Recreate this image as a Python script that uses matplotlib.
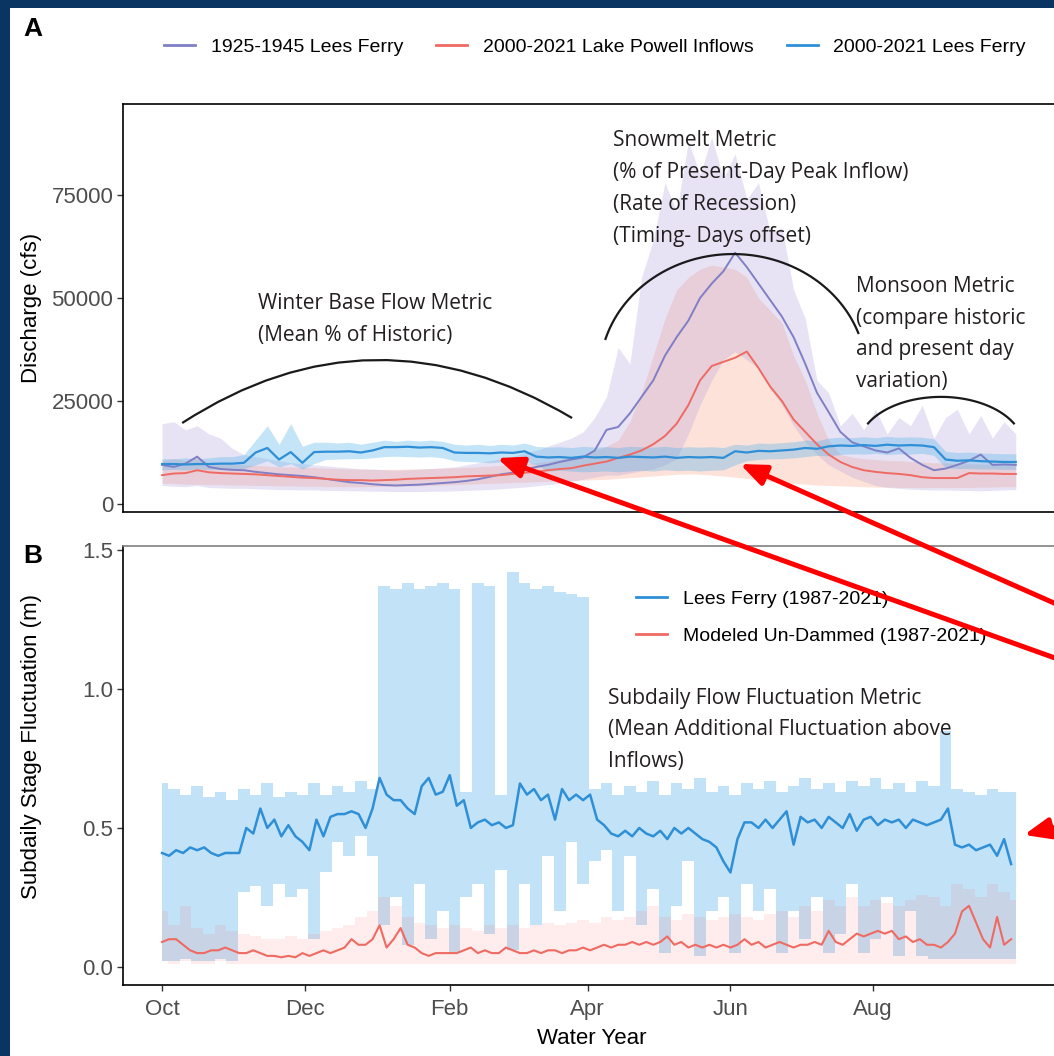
# LIBRARIES IMPORT

import numpy as np
import matplotlib.pyplot as plt
from matplotlib.lines import Line2D
from matplotlib.patches import ConnectionPatch, Rectangle, PathPatch
from matplotlib.path import Path

# DATA

# panel A: day of water year (1 Oct = 0), 5-day samples, discharge in cfs
day_a = np.arange(0, 366, 5)

lees_hist = [9500, 9000, 9800, 11500, 9000, 8500, 8300, 8200, 7800, 7500,
             7200, 7000, 6800, 6500, 6100, 5700, 5300, 5100, 4800, 4600,
             4500, 4600, 4700, 4900, 5100, 5300, 5600, 6000, 6600, 7200,
             7600, 8300, 9000, 9500, 10200, 10800, 11300, 13000, 18000, 18700,
             22000, 26000, 30000, 36000, 40500, 44500, 50000, 53500, 56500, 61000,
             57500, 53500, 49500, 45500, 40500, 34000, 27000, 22300, 17500, 15000,
             14000, 13000, 12500, 13500, 11200, 9500, 8200, 8600, 9500, 10500,
             12000, 9500, 9600, 9500]
lees_hist_lo = [4500, 4300, 4200, 4500, 4000, 3900, 3800, 3800, 3700, 3600,
                3500, 3500, 3400, 3400, 3300, 3300, 3200, 3200, 3100, 3100,
                3000, 3000, 3000, 3100, 3100, 3200, 3300, 3400, 3500, 3700,
                3900, 4100, 4400, 4700, 5000, 5500, 6000, 6500, 7000, 7000,
                7500, 8000, 8500, 9500, 11000, 17000, 24000, 30000, 35000, 37000,
                35000, 33000, 28000, 24000, 19000, 15000, 12000, 9500, 8000, 6500,
                5500, 4500, 4000, 3800, 3600, 3500, 3400, 3400, 3300, 3300,
                3200, 3300, 3400, 3500]
lees_hist_hi = [19500, 20000, 18000, 19000, 17000, 16000, 13500, 12000, 11500, 11000,
                10500, 10000, 9800, 9500, 9300, 9000, 8800, 8500, 8500, 8300,
                8200, 8300, 8500, 8600, 8800, 9000, 9500, 10000, 10500, 11000,
                11500, 12500, 13000, 14000, 15000, 16000, 17500, 21000, 26000, 38000,
                34000, 55000, 64000, 78000, 71000, 88000, 80000, 89000, 79000, 85000,
                74000, 78000, 66000, 67000, 52000, 45000, 30000, 27000, 19000, 22000,
                18000, 23000, 17000, 21000, 19000, 24000, 16000, 21000, 23000, 17000,
                21500, 16000, 20000, 17000]

inflow = [7000, 7400, 7500, 8200, 7700, 7500, 7400, 7300, 7200, 7000,
          6800, 6600, 6400, 6300, 6100, 5900, 5800, 5800, 5700, 5800,
          5900, 6100, 6200, 6300, 6400, 6500, 6700, 6800, 6900, 7000,
          7300, 7600, 7800, 8200, 8500, 8700, 9300, 9800, 10300, 11200,
          12000, 13000, 14500, 16500, 19500, 24000, 30000, 33500, 34500, 35500,
          37000, 33000, 28500, 25000, 20500, 17500, 14500, 12000, 10200, 9000,
          8200, 7800, 7500, 7300, 7000, 6500, 6300, 6300, 6300, 7500,
          7400, 7400, 7300, 7300]
inflow_lo = [5000, 5000, 4800, 4800, 4700, 4700, 4600, 4600, 4500, 4500,
             4400, 4400, 4300, 4300, 4200, 4200, 4200, 4200, 4200, 4300,
             4300, 4400, 4400, 4500, 4600, 4700, 4800, 4900, 5000, 5100,
             5200, 5300, 5400, 5500, 5600, 5700, 5800, 5900, 6000, 6200,
             6400, 6600, 6800, 7000, 7200, 7300, 7200, 7000, 6800, 6500,
             6200, 5800, 5500, 5200, 5000, 4800, 4600, 4500, 4400, 4300,
             4200, 4100, 4100, 4000, 4000, 4000, 4000, 4000, 4000, 4000,
             4100, 4100, 4200, 4200]
inflow_hi = [10500, 11000, 10500, 11500, 10000, 9800, 9600, 9500, 9400, 9200,
             9000, 9000, 8900, 8800, 8700, 8600, 8500, 8500, 8400, 8400,
             8400, 8500, 8500, 8600, 8700, 8800, 8900, 9000, 9200, 9400,
             9600, 9800, 10000, 10400, 10800, 11400, 12000, 13000, 14000, 15500,
             20000, 27000, 36000, 45000, 52000, 55000, 57000, 58000, 57500, 57000,
             55000, 50000, 47000, 44000, 36000, 30000, 22000, 15500, 12000, 11400,
             11000, 10800, 10600, 10500, 10300, 10200, 10000, 10000, 9800, 9800,
             9700, 9700, 9600, 9600]

lees_now = [9700, 9700, 9600, 9700, 9700, 9800, 9800, 10000, 12500, 13600,
            10800, 12600, 10000, 12600, 12700, 12700, 12800, 12500, 13000, 13800,
            13800, 13900, 13700, 13800, 13600, 12500, 12400, 12400, 12300, 12500,
            12400, 12800, 11500, 11300, 11400, 11200, 11500, 11300, 11400, 11200,
            11500, 11400, 11300, 11500, 11200, 11400, 11300, 11400, 11200, 12800,
            12500, 12900, 12800, 13000, 13200, 13600, 13400, 14000, 14200, 14100,
            14300, 14100, 14400, 14200, 14300, 14200, 13800, 10800, 10500, 10600,
            10400, 10300, 10200, 10200]
lees_now_lo = [8300, 8400, 8300, 8500, 8400, 8500, 8600, 8600, 9500, 10500,
               9000, 9800, 8500, 9800, 10800, 10900, 11000, 11000, 11200, 11500,
               11600, 11500, 11400, 11500, 11200, 10500, 10300, 10200, 10000, 10200,
               10100, 10300, 9500, 8000, 8200, 8000, 7800, 7900, 8000, 7800,
               8000, 8200, 8000, 8300, 8100, 8200, 8000, 8200, 8300, 9500,
               10500, 10800, 11000, 11000, 11200, 11500, 11800, 11700, 12000, 12200,
               12100, 12300, 12000, 12200, 12100, 12300, 11800, 8800, 8600, 8600,
               8500, 8500, 8400, 8400]
lees_now_hi = [11000, 11000, 11200, 11000, 11200, 11500, 11500, 12000, 15500, 19000,
               14500, 19500, 14000, 15000, 15000, 14800, 15000, 14500, 15000, 15500,
               15200, 15500, 15300, 15500, 15200, 14500, 14300, 14500, 14200, 14500,
               14300, 14800, 14000, 13800, 13900, 13700, 14000, 13800, 13900, 13700,
               14000, 13900, 13800, 14000, 13700, 13900, 13800, 13900, 13700, 14500,
               14300, 14800, 14700, 14900, 15100, 15500, 15300, 16000, 16200, 16100,
               16300, 16100, 16400, 16200, 16300, 16200, 15800, 12800, 12500, 12600,
               12400, 12300, 12200, 12200]

# panel B: subdaily stage fluctuation (m); lines at 3-day samples, ribbons at 5-day samples
fluct_lees = [0.41, 0.40, 0.42, 0.41, 0.43, 0.42, 0.43, 0.41, 0.40, 0.41,
              0.41, 0.41, 0.50, 0.48, 0.57, 0.50, 0.53, 0.47, 0.51, 0.47,
              0.45, 0.42, 0.53, 0.47, 0.54, 0.55, 0.55, 0.56, 0.55, 0.50,
              0.57, 0.68, 0.62, 0.60, 0.60, 0.57, 0.55, 0.65, 0.68, 0.62,
              0.63, 0.69, 0.58, 0.60, 0.50, 0.52, 0.53, 0.51, 0.52, 0.50,
              0.51, 0.66, 0.62, 0.64, 0.60, 0.62, 0.53, 0.64, 0.60, 0.62,
              0.60, 0.62, 0.53, 0.51, 0.48, 0.47, 0.49, 0.47, 0.50, 0.48,
              0.47, 0.49, 0.46, 0.50, 0.48, 0.50, 0.48, 0.46, 0.45, 0.43,
              0.38, 0.34, 0.46, 0.52, 0.52, 0.50, 0.53, 0.50, 0.53, 0.56,
              0.44, 0.54, 0.52, 0.53, 0.50, 0.54, 0.52, 0.50, 0.55, 0.49,
              0.53, 0.54, 0.51, 0.53, 0.52, 0.53, 0.50, 0.53, 0.52, 0.51,
              0.52, 0.53, 0.57, 0.44, 0.43, 0.44, 0.42, 0.43, 0.44, 0.40,
              0.46, 0.37]
fluct_model = [0.09, 0.10, 0.10, 0.08, 0.06, 0.05, 0.05, 0.06, 0.06, 0.07,
               0.06, 0.05, 0.05, 0.06, 0.05, 0.04, 0.04, 0.035, 0.04, 0.035,
               0.05, 0.04, 0.05, 0.06, 0.05, 0.06, 0.07, 0.10, 0.08, 0.08,
               0.10, 0.15, 0.07, 0.10, 0.14, 0.08, 0.07, 0.05, 0.04, 0.05,
               0.05, 0.05, 0.05, 0.06, 0.07, 0.05, 0.06, 0.05, 0.05, 0.07,
               0.06, 0.05, 0.05, 0.06, 0.05, 0.06, 0.06, 0.05, 0.06, 0.06,
               0.07, 0.06, 0.07, 0.08, 0.07, 0.08, 0.08, 0.09, 0.08, 0.09,
               0.08, 0.09, 0.11, 0.08, 0.09, 0.07, 0.08, 0.07, 0.08, 0.07,
               0.08, 0.07, 0.08, 0.10, 0.08, 0.09, 0.07, 0.08, 0.09, 0.08,
               0.07, 0.08, 0.08, 0.09, 0.08, 0.13, 0.09, 0.08, 0.10, 0.12,
               0.11, 0.12, 0.13, 0.12, 0.13, 0.10, 0.11, 0.09, 0.10, 0.08,
               0.08, 0.07, 0.09, 0.12, 0.20, 0.22, 0.16, 0.10, 0.07, 0.18,
               0.08, 0.10]
day_b_line = np.arange(0, 3 * len(fluct_lees), 3)
day_b = np.arange(0, 366, 5)

fluct_lees_hi = [0.66, 0.64, 0.62, 0.65, 0.61, 0.63, 0.60, 0.64, 0.62, 0.66,
                 0.61, 0.63, 0.62, 0.66, 0.62, 0.65, 0.63, 0.67, 0.64, 1.37,
                 1.36, 1.38, 1.36, 1.37, 1.38, 1.36, 0.63, 1.38, 1.37, 0.62,
                 1.42, 1.38, 1.36, 1.37, 1.35, 1.34, 1.33, 0.64, 0.66, 0.62,
                 0.65, 0.63, 0.67, 0.62, 0.66, 0.64, 0.68, 0.63, 0.65, 0.62,
                 0.66, 0.64, 0.67, 0.63, 0.65, 0.68, 0.64, 0.66, 0.63, 0.67,
                 0.65, 0.68, 0.64, 0.66, 0.63, 0.67, 0.65, 0.85, 0.64, 0.63,
                 0.62, 0.64, 0.63, 0.63]
fluct_lees_lo = [0.02, 0.02, 0.03, 0.02, 0.02, 0.03, 0.02, 0.27, 0.29, 0.22,
                 0.30, 0.25, 0.28, 0.10, 0.34, 0.45, 0.40, 0.47, 0.40, 0.15,
                 0.25, 0.08, 0.30, 0.10, 0.20, 0.05, 0.25, 0.30, 0.12, 0.35,
                 0.06, 0.30, 0.15, 0.40, 0.20, 0.45, 0.30, 0.38, 0.42, 0.20,
                 0.40, 0.15, 0.28, 0.05, 0.22, 0.38, 0.04, 0.20, 0.25, 0.05,
                 0.30, 0.20, 0.28, 0.05, 0.20, 0.10, 0.25, 0.05, 0.12, 0.30,
                 0.05, 0.10, 0.25, 0.04, 0.20, 0.04, 0.03, 0.03, 0.03, 0.03,
                 0.03, 0.03, 0.03, 0.03]
fluct_model_hi = [0.20, 0.15, 0.22, 0.14, 0.12, 0.15, 0.13, 0.12, 0.11, 0.10,
                  0.10, 0.11, 0.10, 0.12, 0.13, 0.14, 0.15, 0.18, 0.20, 0.25,
                  0.22, 0.18, 0.16, 0.15, 0.14, 0.15, 0.14, 0.13, 0.15, 0.14,
                  0.15, 0.14, 0.15, 0.16, 0.15, 0.16, 0.17, 0.16, 0.18, 0.17,
                  0.18, 0.20, 0.22, 0.18, 0.17, 0.19, 0.18, 0.17, 0.18, 0.19,
                  0.18, 0.17, 0.19, 0.20, 0.18, 0.22, 0.20, 0.24, 0.22, 0.25,
                  0.22, 0.24, 0.23, 0.22, 0.24, 0.26, 0.25, 0.22, 0.30, 0.28,
                  0.25, 0.30, 0.27, 0.24]
fluct_model_lo = [0.02, 0.01, 0.02, 0.01, 0.01, 0.02, 0.01, 0.01, 0.01, 0.01,
                  0.01, 0.01, 0.01, 0.01, 0.01, 0.01, 0.01, 0.01, 0.01, 0.01,
                  0.01, 0.01, 0.01, 0.01, 0.01, 0.01, 0.01, 0.01, 0.01, 0.01,
                  0.01, 0.01, 0.01, 0.01, 0.01, 0.01, 0.01, 0.01, 0.01, 0.01,
                  0.01, 0.01, 0.01, 0.01, 0.01, 0.01, 0.01, 0.01, 0.01, 0.01,
                  0.01, 0.01, 0.01, 0.01, 0.01, 0.01, 0.01, 0.01, 0.01, 0.01,
                  0.01, 0.01, 0.01, 0.01, 0.01, 0.01, 0.01, 0.01, 0.01, 0.01,
                  0.01, 0.01, 0.01, 0.01]

month_ticks = [0, 61, 123, 182, 243, 304]
month_labels = ['Oct', 'Dec', 'Feb', 'Apr', 'Jun', 'Aug']

legend_a = ['1925-1945 Lees Ferry', '2000-2021 Lake Powell Inflows', '2000-2021 Lees Ferry']
legend_b = ['Lees Ferry (1987-2021)', 'Modeled Un-Dammed (1987-2021)']

# STYLE

W, H = 1054, 1056
NAVY = '#0a3461'
PURPLE = '#7f7fc6'
RED = '#ef6a62'
BLUE = '#2f8fd6'
SANS = ['Liberation Sans', 'DejaVu Sans']
NOTE = ['Open Sans', 'DejaVu Sans']


def box(left, top, right, bottom):
    # pixel box -> figure fraction [l, b, w, h]
    return [left / W, 1 - bottom / H, (right - left) / W, (bottom - top) / H]


def style_axis(ax):
    ax.tick_params(direction='out', length=4, width=1, color='#333333',
                   labelsize=16, labelcolor='#4d4d4d', pad=3)
    ax.tick_params(axis='x', pad=6)
    for t in ax.get_xticklabels() + ax.get_yticklabels():
        t.set_family(SANS)
    for s in ax.spines.values():
        s.set_linewidth(1.2)
        s.set_color('black')


fig = plt.figure(figsize=(W / 100, H / 100), dpi=100, facecolor=NAVY)
fig.add_artist(Rectangle((10 / W, 0), 1, 1 - 8 / H, transform=fig.transFigure,
                         facecolor='white', edgecolor='none', zorder=-10))

# PANEL A
ax_a = fig.add_axes(box(123, 104, 1060, 512))
ax_a.fill_between(day_a, inflow_lo, inflow_hi, color='#f98c6c', alpha=0.25, lw=0)
ax_a.fill_between(day_a, lees_hist_lo, lees_hist_hi, color='#a896d8', alpha=0.26, lw=0)
ax_a.fill_between(day_a, lees_now_lo, lees_now_hi, color='#56b4e9', alpha=0.35, lw=0)
ax_a.plot(day_a, lees_hist, color=PURPLE, lw=1.4)
ax_a.plot(day_a, inflow, color=RED, lw=1.4)
ax_a.plot(day_a, lees_now, color=BLUE, lw=1.6)
ax_a.set_xlim(-16.7, 383.9)
ax_a.set_ylim(-1940, 97090)
ax_a.set_yticks([0, 25000, 50000, 75000])
ax_a.tick_params(axis='x', bottom=False, labelbottom=False)
style_axis(ax_a)
ax_a.set_ylabel('Discharge (cfs)', fontsize=16, family=SANS)
ax_a.yaxis.set_label_coords(-0.0864, 0.5)

# metric arcs (winter as a parabola, snowmelt and monsoon as ellipse pieces)
winter = Path([(8.6, 19660), (90, 49635), (175.3, 20870)],
              [Path.MOVETO, Path.CURVE3, Path.CURVE3])
ax_a.add_patch(PathPatch(winter, fill=False, lw=1.6, color='#1a1a1a'))
t = np.radians(np.linspace(20, 163, 80))
ax_a.plot(244.1 + 57 * np.cos(t), 31550 + 29120 * np.sin(t), color='#1a1a1a', lw=1.6)
t = np.radians(np.linspace(28, 152, 60))
ax_a.plot(333 + 35.3 * np.cos(t), 13865 + 12135 * np.sin(t), color='#1a1a1a', lw=1.6)

note = dict(family=NOTE, fontsize=15, color='#231f20', linespacing=1.68, va='center', ha='left')
ax_a.text(41, 44780, 'Winter Base Flow Metric\n(Mean % of Historic)', **note)
ax_a.text(192.8, 76570, 'Snowmelt Metric\n(% of Present-Day Peak Inflow)\n'
          '(Rate of Recession)\n(Timing- Days offset)', **note)
ax_a.text(296.7, 41260, 'Monsoon Metric\n(compare historic\nand present day\nvariation)', **note)

# PANEL B
ax_b = fig.add_axes(box(123, 546, 1060, 985))
ax_b.fill_between(day_b, fluct_lees_lo, fluct_lees_hi, step='mid', color='#56b4e9', alpha=0.36, lw=0)
ax_b.fill_between(day_b, fluct_model_lo, fluct_model_hi, step='mid', color='#f8766d', alpha=0.13, lw=0)
ax_b.plot(day_b_line, fluct_lees, color=BLUE, lw=1.8)
ax_b.plot(day_b_line, fluct_model, color=RED, lw=1.5)
ax_b.set_xlim(-16.7, 383.9)
ax_b.set_ylim(-0.0647, 1.514)
ax_b.set_yticks([0.0, 0.5, 1.0, 1.5])
ax_b.set_yticklabels(['0.0', '0.5', '1.0', '1.5'])
ax_b.set_xticks(month_ticks)
ax_b.set_xticklabels(month_labels)
style_axis(ax_b)
ax_b.spines['top'].set_color('#808080')
ax_b.set_ylabel('Subdaily Stage Fluctuation (m)', fontsize=16, family=SANS)
ax_b.yaxis.set_label_coords(-0.0864, 0.544)
ax_b.set_xlabel('Water Year', fontsize=16, family=SANS, labelpad=6)
ax_b.text(190.7, 0.8525, 'Subdaily Flow Fluctuation Metric\n(Mean Additional Fluctuation above\nInflows)', **note)

# LEGENDS
handles_a = [Line2D([], [], color=c, lw=2) for c in (PURPLE, RED, BLUE)]
fig.legend(handles_a, legend_a, loc='center', bbox_to_anchor=(595 / W, 1 - 47 / H), ncol=3,
           frameon=False, prop={'family': SANS, 'size': 14}, handlelength=1.6,
           handletextpad=0.8, columnspacing=1.7)
handles_b = [Line2D([], [], color=c, lw=2) for c in (BLUE, RED)]
ax_b.legend(handles_b, legend_b, loc='upper left', bbox_to_anchor=(636 / W, 1 - 590 / H),
            bbox_transform=fig.transFigure, frameon=False, prop={'family': SANS, 'size': 14},
            handlelength=1.6, handletextpad=0.8, labelspacing=1.0, borderpad=0, borderaxespad=0)

# panel letters
fig.text(23 / W, 1 - 29 / H, 'A', fontsize=19, fontweight='bold', family=SANS, va='center')
fig.text(23 / W, 1 - 556 / H, 'B', fontsize=19, fontweight='bold', family=SANS, va='center')

# red call-out arrows laid over the figure
arrow = dict(arrowstyle='-|>,head_length=1.1,head_width=0.45', mutation_scale=14,
             color='#ff0000', lw=3.6, zorder=20, shrinkA=0, shrinkB=0)
for tail, tip, ax in [((1.03, 1 - 669 / H), (143.2, 11160), ax_a),
                      ((1.03, 1 - 617 / H), (247.1, 9700), ax_a),
                      ((1.03, 1 - 820 / H), (368.5, 0.475), ax_b)]:
    fig.add_artist(ConnectionPatch(xyA=tail, coordsA=fig.transFigure, xyB=tip,
                                   coordsB=ax.transData, **arrow))

fig.savefig('out.png', dpi=100, facecolor=NAVY)
